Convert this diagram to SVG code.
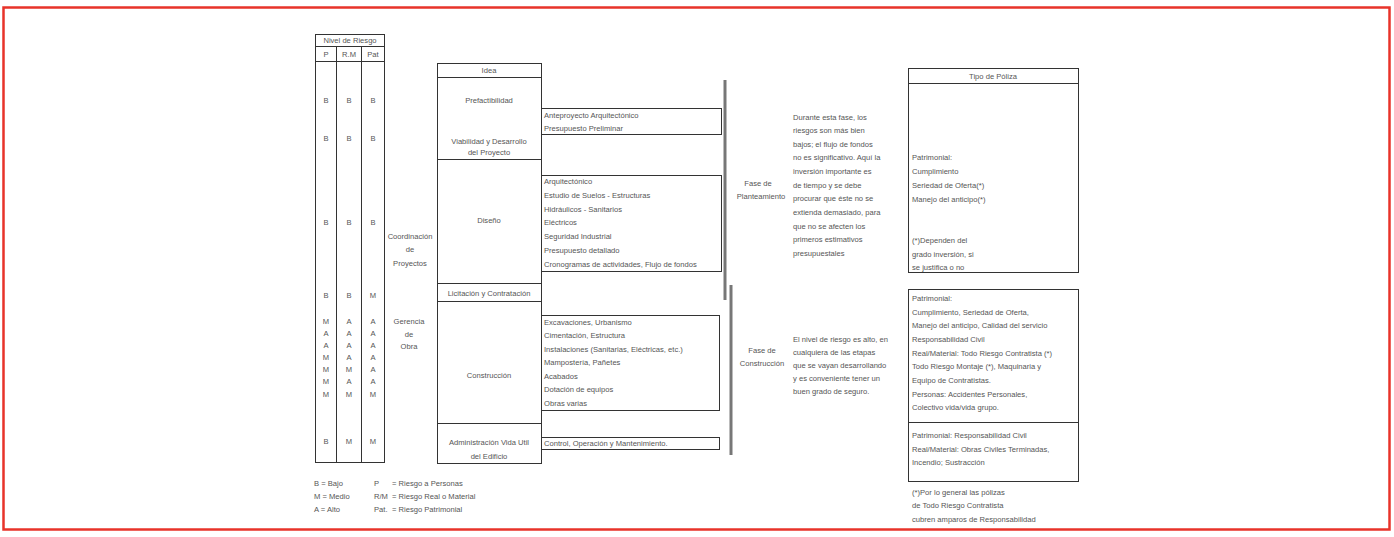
<svg xmlns="http://www.w3.org/2000/svg" width="1394" height="537" viewBox="0 0 1394 537">
<style>
text{font-family:"Liberation Sans",Arial,sans-serif;font-size:7.6px;fill:#555}
.c{text-anchor:middle}
.b{fill:none;stroke:#333;stroke-width:1}
.l{stroke:#333;stroke-width:1}
.bar{stroke:#777;stroke-width:3}
</style>
<rect x="0" y="0" width="1394" height="537" fill="#fff"/>
<rect x="3.5" y="7.5" width="1386" height="522" fill="none" stroke="#e8332a" stroke-width="2.5"/>

<g id="risk-table">
<rect class="b" x="315.5" y="34.5" width="69" height="428"/>
<line class="l" x1="315" y1="46.5" x2="384" y2="46.5"/>
<line class="l" x1="315" y1="61.5" x2="384" y2="61.5"/>
<line class="l" x1="336.5" y1="46" x2="336.5" y2="462"/>
<line class="l" x1="361.5" y1="46" x2="361.5" y2="462"/>
<text class="c" x="350" y="43">Nivel de Riesgo</text>
<text class="c" x="326" y="57">P</text>
<text class="c" x="349" y="57">R.M</text>
<text class="c" x="373" y="57">Pat</text>
<g class="c">
<text class="c" x="326" y="103">B</text><text class="c" x="349" y="103">B</text><text class="c" x="373" y="103">B</text>
<text class="c" x="326" y="141">B</text><text class="c" x="349" y="141">B</text><text class="c" x="373" y="141">B</text>
<text class="c" x="326" y="225">B</text><text class="c" x="349" y="225">B</text><text class="c" x="373" y="225">B</text>
<text class="c" x="326" y="298">B</text><text class="c" x="349" y="298">B</text><text class="c" x="373" y="298">M</text>
<text class="c" x="326" y="324">M</text><text class="c" x="349" y="324">A</text><text class="c" x="373" y="324">A</text>
<text class="c" x="326" y="336">A</text><text class="c" x="349" y="336">A</text><text class="c" x="373" y="336">A</text>
<text class="c" x="326" y="348">A</text><text class="c" x="349" y="348">A</text><text class="c" x="373" y="348">A</text>
<text class="c" x="326" y="360">M</text><text class="c" x="349" y="360">A</text><text class="c" x="373" y="360">A</text>
<text class="c" x="326" y="372">M</text><text class="c" x="349" y="372">M</text><text class="c" x="373" y="372">A</text>
<text class="c" x="326" y="384">M</text><text class="c" x="349" y="384">A</text><text class="c" x="373" y="384">A</text>
<text class="c" x="326" y="397">M</text><text class="c" x="349" y="397">M</text><text class="c" x="373" y="397">M</text>
<text class="c" x="326" y="444">B</text><text class="c" x="349" y="444">M</text><text class="c" x="373" y="444">M</text>
</g>
</g>

<g id="coordinacion">
<text class="c" x="410" y="239">Coordinación</text>
<text class="c" x="410" y="252">de</text>
<text class="c" x="410" y="266">Proyectos</text>
</g>
<g id="gerencia">
<text class="c" x="409" y="324">Gerencia</text>
<text class="c" x="409" y="337">de</text>
<text class="c" x="409" y="349">Obra</text>
</g>

<g id="fases">
<rect class="b" x="437.5" y="63.5" width="104" height="400"/>
<line class="l" x1="437" y1="77.5" x2="541" y2="77.5"/>
<line class="l" x1="437" y1="159.5" x2="541" y2="159.5"/>
<line class="l" x1="437" y1="283.5" x2="541" y2="283.5"/>
<line class="l" x1="437" y1="301.5" x2="541" y2="301.5"/>
<line class="l" x1="437" y1="423.5" x2="541" y2="423.5"/>
<text class="c" x="489" y="73">Idea</text>
<text class="c" x="489" y="103">Prefactibilidad</text>
<text class="c" x="489" y="144">Viabilidad y Desarrollo</text>
<text class="c" x="489" y="155">del Proyecto</text>
<text class="c" x="489" y="223">Diseño</text>
<text class="c" x="489" y="296">Licitación y Contratación</text>
<text class="c" x="489" y="378">Construcción</text>
<text class="c" x="489" y="445">Administración Vida Util</text>
<text class="c" x="489" y="459">del Edificio</text>
</g>

<g id="anteproyecto">
<rect class="b" x="541.5" y="108.5" width="180" height="26"/>
<text x="544" y="118">Anteproyecto Arquitectónico</text>
<text x="544" y="131">Presupuesto Preliminar</text>
</g>

<g id="diseno-detalle">
<rect class="b" x="541.5" y="175.5" width="180" height="96"/>
<text x="544" y="184">Arquitectónico</text>
<text x="544" y="198">Estudio de Suelos - Estructuras</text>
<text x="544" y="212">Hidráulicos - Sanitarios</text>
<text x="544" y="225">Eléctricos</text>
<text x="544" y="239">Seguridad Industrial</text>
<text x="544" y="253">Presupuesto detallado</text>
<text x="544" y="267">Cronogramas de actividades, Flujo de fondos</text>
</g>

<g id="construccion-detalle">
<rect class="b" x="541.5" y="315.5" width="178" height="95"/>
<text x="544" y="325">Excavaciones, Urbanismo</text>
<text x="544" y="338">Cimentación, Estructura</text>
<text x="544" y="352">Instalaciones (Sanitarias, Eléctricas, etc.)</text>
<text x="544" y="365">Mampostería, Pañetes</text>
<text x="544" y="379">Acabados</text>
<text x="544" y="392">Dotación de equipos</text>
<text x="544" y="406">Obras varias</text>
</g>

<g id="control">
<rect class="b" x="541.5" y="437.5" width="178" height="12"/>
<text x="544" y="446">Control, Operación y Mantenimiento.</text>
</g>

<g id="connectors">
<line class="bar" x1="725" y1="80" x2="725" y2="300"/>
<line class="bar" x1="731" y1="285" x2="731" y2="455"/>
</g>

<g id="fase-planteamiento">
<text class="c" x="758" y="186">Fase de</text>
<text class="c" x="761" y="199">Planteamiento</text>
<text x="793" y="120">Durante esta fase, los</text>
<text x="793" y="133">riesgos son más bien</text>
<text x="793" y="147">bajos; el flujo de fondos</text>
<text x="793" y="160">no es significativo. Aquí la</text>
<text x="793" y="174">inversión importante es</text>
<text x="793" y="188">de tiempo y se debe</text>
<text x="793" y="201">procurar que éste no se</text>
<text x="793" y="215">extienda demasiado, para</text>
<text x="793" y="229">que no se afecten los</text>
<text x="793" y="242">primeros estimativos</text>
<text x="793" y="256">presupuestales</text>
</g>

<g id="fase-construccion">
<text class="c" x="762" y="353">Fase de</text>
<text class="c" x="762" y="366">Construcción</text>
<text x="793" y="342">El nivel de riesgo es alto, en</text>
<text x="793" y="355">cualquiera de las etapas</text>
<text x="793" y="368">que se vayan desarrollando</text>
<text x="793" y="381">y es conveniente tener un</text>
<text x="793" y="394">buen grado de seguro.</text>
</g>

<g id="poliza-planteamiento">
<rect class="b" x="908.5" y="68.5" width="170" height="204"/>
<line class="l" x1="908" y1="83.5" x2="1078" y2="83.5"/>
<text class="c" x="993" y="79">Tipo de Póliza</text>
<text x="912" y="160">Patrimonial:</text>
<text x="912" y="174">Cumplimiento</text>
<text x="912" y="188">Seriedad de Oferta(*)</text>
<text x="912" y="202">Manejo del anticipo(*)</text>
<text x="912" y="243">(*)Dependen del</text>
<text x="912" y="257">grado inversión, si</text>
<text x="912" y="270">se justifica o no</text>
</g>

<g id="poliza-construccion">
<rect class="b" x="908.5" y="289.5" width="170" height="133"/>
<text x="912" y="301">Patrimonial:</text>
<text x="912" y="315">Cumplimiento, Seriedad de Oferta,</text>
<text x="912" y="328">Manejo del anticipo, Calidad del servicio</text>
<text x="912" y="342">Responsabilidad Civil</text>
<text x="912" y="356">Real/Material: Todo Riesgo Contratista (*)</text>
<text x="912" y="369">Todo Riesgo Montaje (*), Maquinaria y</text>
<text x="912" y="383">Equipo de Contratistas.</text>
<text x="912" y="397">Personas: Accidentes Personales,</text>
<text x="912" y="410">Colectivo vida/vida grupo.</text>
</g>

<g id="poliza-administracion">
<rect class="b" x="908.5" y="422.5" width="170" height="59"/>
<text x="912" y="438">Patrimonial: Responsabilidad Civil</text>
<text x="912" y="452">Real/Material: Obras Civiles Terminadas,</text>
<text x="912" y="465">Incendio; Sustracción</text>
</g>

<g id="nota">
<text x="912" y="495">(*)Por lo general las pólizas</text>
<text x="912" y="508">de Todo Riesgo Contratista</text>
<text x="912" y="522">cubren amparos de Responsabilidad</text>
</g>

<g id="leyenda">
<text x="314" y="486">B = Bajo</text>
<text x="314" y="499">M = Medio</text>
<text x="314" y="512">A = Alto</text>
<text x="374" y="486">P</text>
<text x="374" y="499">R/M</text>
<text x="374" y="512">Pat.</text>
<text x="392" y="486">= Riesgo a Personas</text>
<text x="392" y="499">= Riesgo Real o Material</text>
<text x="392" y="512">= Riesgo Patrimonial</text>
</g>
</svg>
